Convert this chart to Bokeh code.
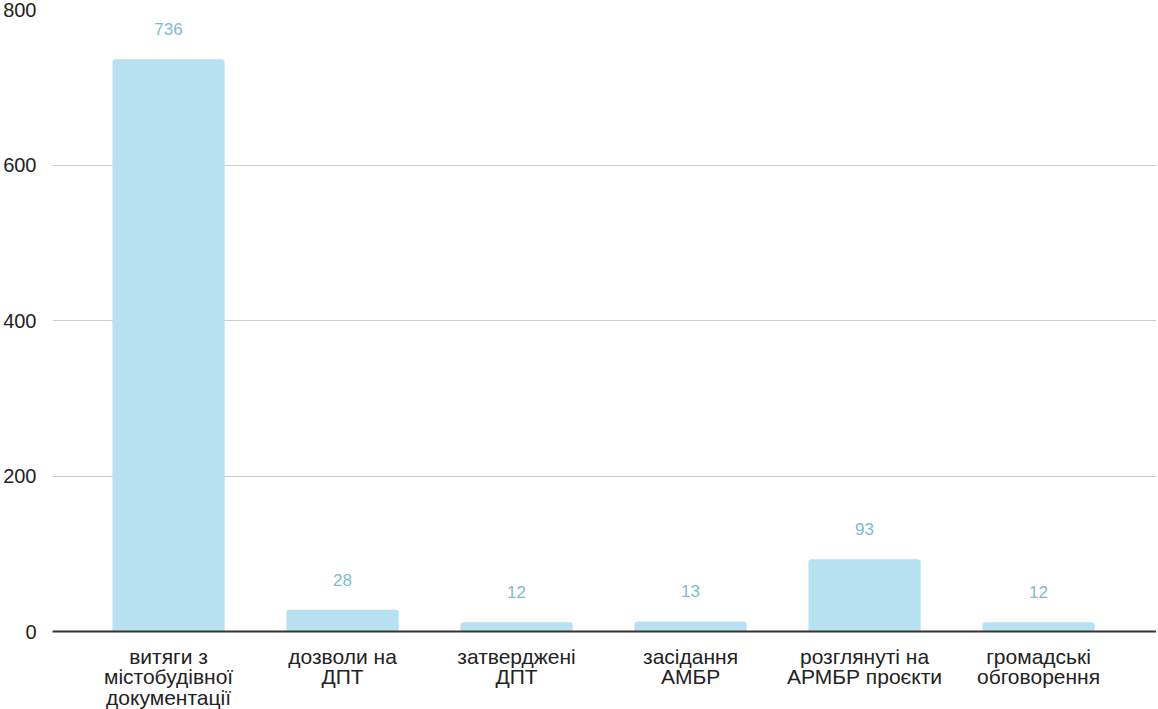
from bokeh.plotting import figure
from bokeh.models import ColumnDataSource, FixedTicker, Range1d
from bokeh.core.properties import value
from bokeh.embed import file_html
from bokeh.resources import INLINE

categories = ["витяги з\nмістобудівної\nдокументації", "дозволи на\nДПТ", "затверджені\nДПТ",
              "засідання\nАМБР", "розглянуті на\nАРМБР проєкти", "громадські\nобговорення"]
values = [736, 28, 12, 13, 93, 12]
y_ticks = [0, 200, 400, 600, 800]

xs = list(range(len(categories)))
src = ColumnDataSource(dict(x=xs, top=values, label=[str(v) for v in values]))

p = figure(frame_width=1104, frame_height=622, output_backend="svg", toolbar_location=None,
           x_range=Range1d(-0.667, 5.678), y_range=Range1d(0, 800),
           min_border_left=46, min_border_right=0, min_border_top=9, min_border_bottom=0)
p.outline_line_color = None
p.background_fill_color = "white"
p.border_fill_color = "white"

p.vbar(x="x", top="top", width=0.645, source=src, fill_color="#b7e1f1", line_color=None,
       border_radius=(3, 3, 0, 0))
p.text(x="x", y="top", text="label", source=src, text_align="center", text_baseline="middle",
       y_offset=-30, text_color="#7db9d2", text_font_size="17px", text_font=value("Liberation Sans"))

p.xgrid.grid_line_color = None
p.ygrid.grid_line_color = "#cccccc"
p.ygrid.grid_line_width = 1
p.ygrid.ticker = FixedTicker(ticks=y_ticks)

p.yaxis.ticker = FixedTicker(ticks=y_ticks)
p.yaxis.axis_line_color = None
p.yaxis.major_tick_line_color = None
p.yaxis.minor_tick_line_color = None
p.yaxis.major_label_standoff = 10
p.yaxis.major_label_text_font = "Liberation Sans"
p.yaxis.major_label_text_font_size = "20px"
p.yaxis.major_label_text_color = "#222222"

p.xaxis.ticker = FixedTicker(ticks=xs)
p.xaxis.major_label_overrides = {i: c for i, c in enumerate(categories)}
p.xaxis.axis_line_color = "#333333"
p.xaxis.axis_line_width = 2
p.xaxis.major_tick_line_color = None
p.xaxis.minor_tick_line_color = None
p.xaxis.major_label_standoff = 7
p.xaxis.major_label_text_font = "Liberation Sans"
p.xaxis.major_label_text_font_size = "21px"
p.xaxis.major_label_text_color = "#222222"
p.xaxis.major_label_text_line_height = 0.9

open("out.html", "w").write(file_html(p, INLINE))
